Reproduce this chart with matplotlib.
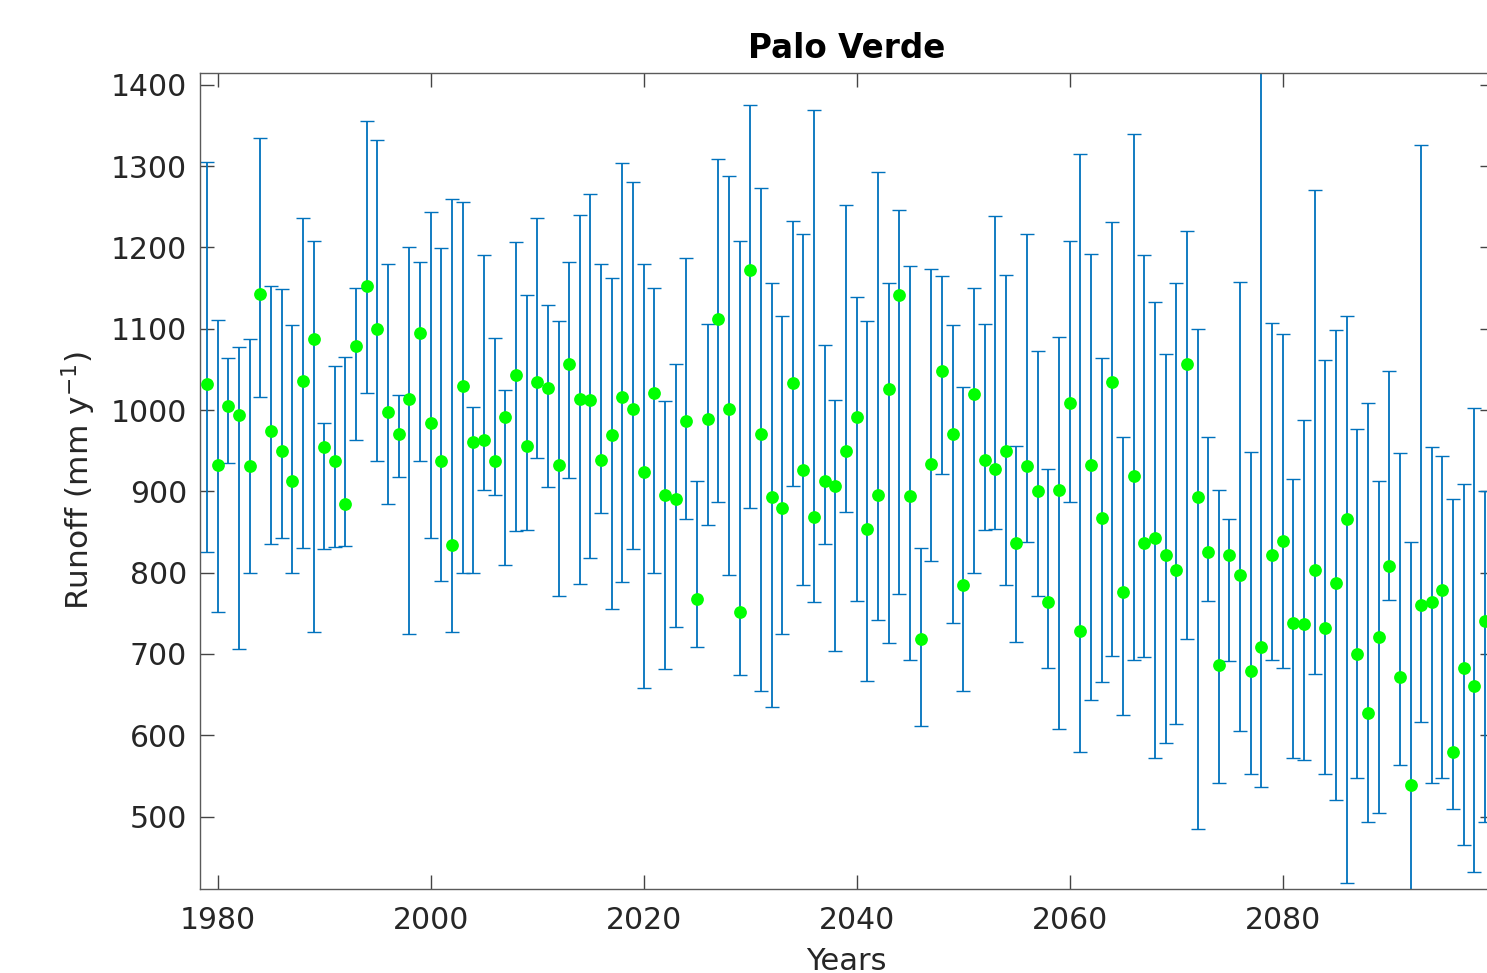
import numpy as np
import matplotlib
matplotlib.use("Agg")
import matplotlib.pyplot as plt

years = list(range(1979, 2100))
runoff = [1032, 932, 1005, 994, 931, 1143, 974, 949, 913, 1036,
          1087, 954, 937, 884, 1079, 1152, 1100, 998, 970, 1014,
          1095, 984, 937, 834, 1029, 961, 963, 937, 992, 1043,
          956, 1035, 1027, 932, 1057, 1014, 1012, 938, 969, 1016,
          1001, 924, 1021, 896, 891, 986, 767, 989, 1112, 1001,
          752, 1172, 970, 893, 879, 1033, 926, 868, 913, 907,
          950, 992, 854, 895, 1026, 1141, 894, 719, 934, 1048,
          970, 785, 1020, 938, 928, 950, 836, 931, 901, 764,
          902, 1009, 728, 932, 867, 1035, 776, 919, 836, 842,
          822, 803, 1057, 893, 825, 687, 822, 797, 679, 709,
          822, 839, 738, 737, 803, 732, 787, 866, 700, 627,
          721, 808, 672, 539, 760, 764, 779, 579, 683, 661, 741]
upper = [1305, 1111, 1064, 1077, 1087, 1335, 1152, 1149, 1105, 1236,
         1208, 984, 1054, 1065, 1150, 1355, 1332, 1180, 1019, 1200,
         1182, 1244, 1199, 1260, 1256, 1004, 1191, 1089, 1024, 1206,
         1142, 1236, 1129, 1109, 1182, 1240, 1265, 1179, 1162, 1304,
         1280, 1180, 1150, 1011, 1056, 1187, 913, 1106, 1309, 1288,
         1208, 1375, 1273, 1156, 1115, 1233, 1216, 1369, 1080, 1012,
         1252, 1139, 1109, 1293, 1156, 1246, 1177, 830, 1173, 1165,
         1104, 1028, 1150, 1106, 1238, 1166, 956, 1217, 1072, 928,
         1090, 1208, 1315, 1192, 1064, 1231, 967, 1340, 1190, 1133,
         1069, 1156, 1220, 1100, 967, 902, 866, 1158, 948, 1500,
         1107, 1093, 915, 988, 1271, 1061, 1098, 1116, 977, 1008,
         913, 1048, 947, 838, 1326, 954, 943, 891, 909, 1002, 900]
lower = [825, 752, 935, 706, 800, 1016, 835, 842, 800, 830,
         727, 829, 831, 833, 963, 1021, 937, 885, 918, 725,
         937, 843, 790, 727, 799, 800, 902, 896, 810, 851,
         853, 941, 905, 771, 917, 786, 818, 873, 755, 789,
         829, 658, 799, 681, 733, 866, 709, 859, 887, 797,
         674, 880, 654, 635, 724, 906, 785, 764, 835, 704,
         874, 765, 667, 742, 713, 774, 692, 611, 814, 921,
         738, 655, 799, 853, 854, 785, 715, 838, 771, 683,
         608, 887, 579, 643, 665, 698, 625, 693, 696, 572,
         591, 614, 718, 485, 765, 541, 691, 605, 552, 536,
         693, 683, 572, 570, 675, 553, 521, 418, 547, 493,
         504, 766, 564, 380, 616, 541, 548, 509, 465, 432, 493]

yticks = [500, 600, 700, 800, 900, 1000, 1100, 1200, 1300, 1400]
xticks = [1980, 2000, 2020, 2040, 2060, 2080]

yr = np.array(years)
v = np.array(runoff)
up = np.array(upper)
lo = np.array(lower)

W, H = 1487, 973
fig = plt.figure(figsize=(W / 100, H / 100), dpi=100)
ax = fig.add_axes([199.7 / W, 1 - 889 / H, (1494 - 199.7) / W, (889 - 73) / H])

eb = ax.errorbar(yr, v, yerr=[v - lo, up - v], fmt='none', ecolor='#0072BD',
                 elinewidth=1.3, capsize=5.3, capthick=1.0, zorder=2)
for cl in eb[1]:
    cl.set_color('#8c8c8c')
ax.plot(yr, v, 'o', color='#00FF00', markersize=9.2, markeredgewidth=0, zorder=3)

ax.set_xlim(1978.31, 2099.84)
ax.set_ylim(411, 1414.4)
ax.set_xticks(xticks)
ax.set_yticks(yticks)

for s in ax.spines.values():
    s.set_color('#5a5a5a')
    s.set_linewidth(1.0)
ax.tick_params(direction='in', length=10, width=1.0, color='#444444',
               labelsize=21.5, labelcolor='#262626', top=True, right=True)
ax.tick_params(axis='y', pad=9)
ax.tick_params(axis='x', pad=12)

ax.set_title('Palo Verde', fontsize=23.5, fontweight='bold', pad=11)
ax.set_ylabel('Runoff (mm y$^{\\mathregular{-1}}$)', fontsize=22.5, color='#262626', labelpad=9)
ax.set_xlabel('Years', fontsize=22, color='#262626', labelpad=9)

fig.savefig('out.png', dpi=100)
